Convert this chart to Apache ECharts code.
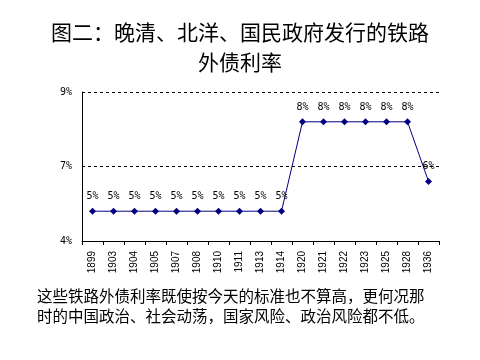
<!DOCTYPE html>
<html>
<head>
<meta charset="utf-8">
<script src="https://cdn.jsdelivr.net/npm/echarts@6/dist/echarts.min.js"></script>
<style>html,body{margin:0;padding:0;background:#fff;}#c{width:480px;height:360px;}</style>
</head>
<body>
<div id="c"></div>
<script>
var categories = ['1899','1903','1904','1905','1907','1908','1910','1911','1913','1914','1920','1921','1922','1923','1925','1928','1936'];
var rates = [5,5,5,5,5,5,5,5,5,5,8,8,8,8,8,8,6];
var titleLines = ['图二：晚清、北洋、国民政府发行的铁路', '外债利率'];
var noteLines = ['这些铁路外债利率既使按今天的标准也不算高，更何况那', '时的中国政治、社会动荡，国家风险、政治风险都不低。'];

var cjk = '"Noto Sans CJK SC", "Noto Sans", sans-serif';
var chart = echarts.init(document.getElementById('c'));
chart.setOption({
  animation: false,
  backgroundColor: '#fff',
  title: {
    text: titleLines.join('\n'),
    left: 'center',
    top: 12,
    textStyle: { fontFamily: cjk, fontSize: 21, fontWeight: 'normal', color: '#000', lineHeight: 30 }
  },
  graphic: [{
    type: 'text',
    left: 37,
    top: 286,
    style: { text: noteLines.join('\n'), font: '15.5px ' + cjk, fill: '#000', lineHeight: 20 }
  }],
  grid: { left: 82, right: 41, top: 92, bottom: 119, containLabel: false },
  xAxis: {
    type: 'category',
    data: categories,
    boundaryGap: true,
    axisLine: { lineStyle: { color: '#000', width: 1 } },
    axisTick: { show: true, alignWithLabel: false, lineStyle: { color: '#000' }, length: 4 },
    axisLabel: { rotate: 90, interval: 0, color: '#000', fontSize: 10, fontFamily: 'Liberation Sans', margin: 10 }
  },
  yAxis: {
    type: 'value',
    min: 4, max: 9, interval: 2.5,
    axisLine: { show: true, lineStyle: { color: '#000', width: 1 } },
    axisTick: { show: false },
    splitLine: { show: true, lineStyle: { color: '#000', type: [3, 3], width: 1 } },
    axisLabel: { color: '#000', fontSize: 10, fontFamily: 'DejaVu Sans Mono', margin: 10,
      formatter: function (v) { return Math.round(v) + '%'; } }
  },
  series: [{
    type: 'line',
    data: rates,
    symbol: 'diamond',
    symbolSize: 7,
    lineStyle: { color: '#000080', width: 1 },
    itemStyle: { color: '#000080' },
    label: { show: true, position: 'top', distance: 6, color: '#000', fontSize: 10, fontFamily: 'DejaVu Sans Mono',
      formatter: function (p) { return p.value + '%'; } }
  }]
});
</script>
</body>
</html>
